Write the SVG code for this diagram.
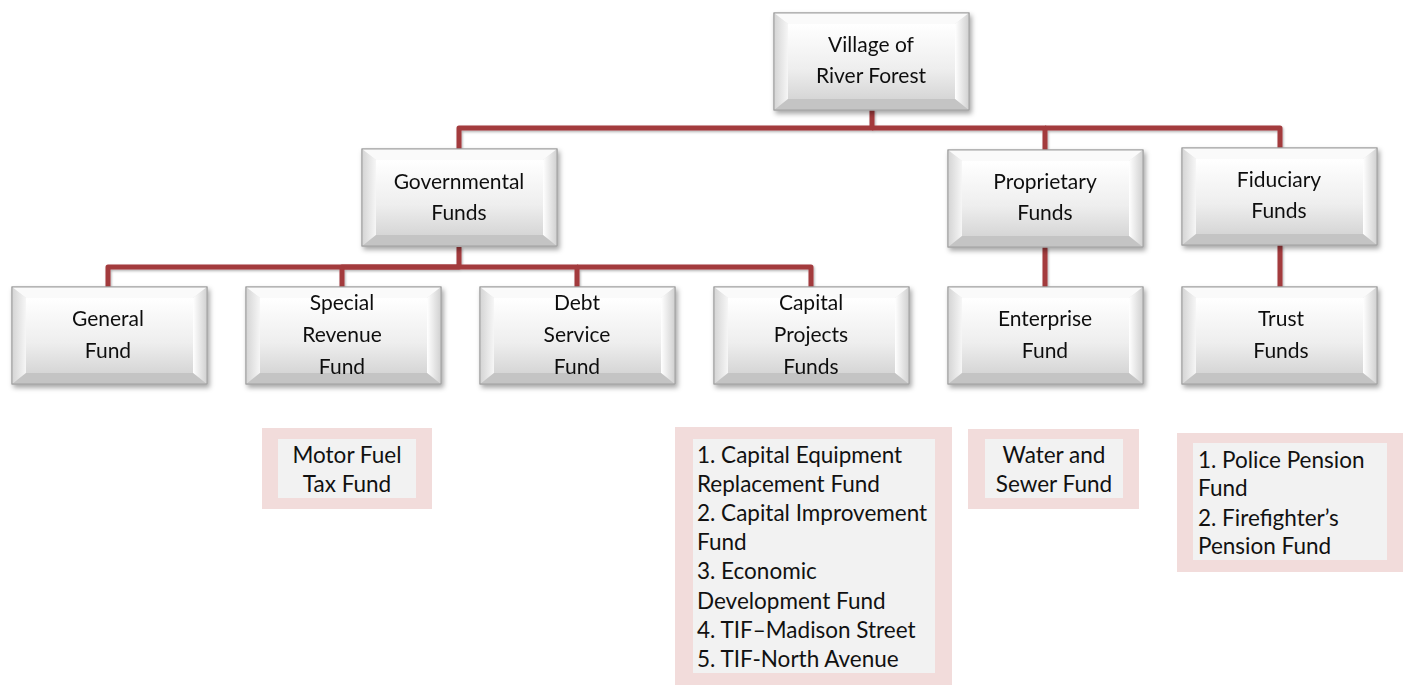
<svg xmlns="http://www.w3.org/2000/svg" xmlns:xlink="http://www.w3.org/1999/xlink" width="1410" height="685" viewBox="0 0 1410 685">
<defs>
<linearGradient id="face" x1="0" y1="0" x2="0" y2="1">
<stop offset="0" stop-color="#ffffff"/>
<stop offset="0.6" stop-color="#eeeeee"/>
<stop offset="1" stop-color="#d6d6d6"/>
</linearGradient>
<linearGradient id="leftb" x1="0" y1="0" x2="1" y2="0">
<stop offset="0" stop-color="#d4d4d4"/>
<stop offset="1" stop-color="#f6f6f6"/>
</linearGradient>
<linearGradient id="rightb" x1="0" y1="0" x2="1" y2="0">
<stop offset="0" stop-color="#ffffff"/>
<stop offset="1" stop-color="#d0d0d0"/>
</linearGradient>
<filter id="shadow" x="-10%" y="-10%" width="125%" height="130%">
<feDropShadow dx="2" dy="3" stdDeviation="2.5" flood-color="#000" flood-opacity="0.35"/>
</filter>
<filter id="lshadow" x="-5%" y="-5%" width="110%" height="120%">
<feDropShadow dx="1" dy="1.5" stdDeviation="1" flood-color="#000" flood-opacity="0.3"/>
</filter>
<g id="bevel">
<rect x="0" y="0" width="195" height="97" fill="#e6e6e6" stroke="#a0a0a0" stroke-width="1"/>
<polygon points="0,0 195,0 181,11 14,11" fill="#fafafa"/>
<polygon points="0,0 14,11 14,86 0,97" fill="url(#leftb)"/>
<polygon points="195,0 195,97 181,86 181,11" fill="url(#rightb)"/>
<polygon points="0,97 14,86 181,86 195,97" fill="#c4c4c4"/>
<rect x="14" y="11" width="167" height="75" fill="url(#face)"/>
<rect x="0" y="0" width="195" height="97" fill="none" stroke="#a0a0a0" stroke-width="1"/>
</g>
</defs>
<style>
.t{font-family:Lato,"Open Sans","Liberation Sans",sans-serif;font-size:21px;fill:#111;text-anchor:middle}
.m{font-family:Lato,"Open Sans","Liberation Sans",sans-serif;font-size:22.5px;fill:#111;text-anchor:middle}
.l{font-family:Lato,"Open Sans","Liberation Sans",sans-serif;font-size:22.5px;fill:#111}
.c{fill:none;stroke:#a33b3d;stroke-width:5;stroke-linejoin:round}
.po{fill:#f2dcdb}
.pi{fill:#f2f2f2}
</style>
<rect width="1410" height="685" fill="#ffffff"/>

<g id="connectors" filter="url(#lshadow)">
<path class="c" d="M872 109 V128 H459 V149"/>
<path class="c" d="M872 128 H1045 V150"/>
<path class="c" d="M1045 128 H1280 V148"/>
<path class="c" d="M459 247 V267 H108 V287"/>
<path class="c" d="M459 267 H342 V287"/>
<path class="c" d="M459 267 H577 V287"/>
<path class="c" d="M577 267 H811 V287"/>
<path class="c" d="M1045 247 V287"/>
<path class="c" d="M1280 245 V287"/>
</g>

<g id="village" filter="url(#shadow)">
<use xlink:href="#bevel" transform="translate(774,13)"/>
<text class="t" x="871" y="52">Village of</text>
<text class="t" x="871" y="83">River Forest</text>
</g>

<g id="governmental" filter="url(#shadow)">
<use xlink:href="#bevel" transform="translate(362,149)"/>
<text class="t" x="459" y="189">Governmental</text>
<text class="t" x="459" y="220">Funds</text>
</g>

<g id="proprietary" filter="url(#shadow)">
<use xlink:href="#bevel" transform="translate(948,150)"/>
<text class="t" x="1045" y="189">Proprietary</text>
<text class="t" x="1045" y="220">Funds</text>
</g>

<g id="fiduciary" filter="url(#shadow)">
<use xlink:href="#bevel" transform="translate(1182,148)"/>
<text class="t" x="1279" y="187">Fiduciary</text>
<text class="t" x="1279" y="218">Funds</text>
</g>

<g id="general" filter="url(#shadow)">
<use xlink:href="#bevel" transform="translate(12,287)"/>
<text class="t" x="108" y="326">General</text>
<text class="t" x="108" y="358">Fund</text>
</g>

<g id="special" filter="url(#shadow)">
<use xlink:href="#bevel" transform="translate(246,287)"/>
<text class="t" x="342" y="310">Special</text>
<text class="t" x="342" y="342">Revenue</text>
<text class="t" x="342" y="374">Fund</text>
</g>

<g id="debt" filter="url(#shadow)">
<use xlink:href="#bevel" transform="translate(480,287)"/>
<text class="t" x="577" y="310">Debt</text>
<text class="t" x="577" y="342">Service</text>
<text class="t" x="577" y="374">Fund</text>
</g>

<g id="capital" filter="url(#shadow)">
<use xlink:href="#bevel" transform="translate(714,287)"/>
<text class="t" x="811" y="310">Capital</text>
<text class="t" x="811" y="342">Projects</text>
<text class="t" x="811" y="374">Funds</text>
</g>

<g id="enterprise" filter="url(#shadow)">
<use xlink:href="#bevel" transform="translate(948,287)"/>
<text class="t" x="1045" y="326">Enterprise</text>
<text class="t" x="1045" y="358">Fund</text>
</g>

<g id="trust" filter="url(#shadow)">
<use xlink:href="#bevel" transform="translate(1182,287)"/>
<text class="t" x="1281" y="326">Trust</text>
<text class="t" x="1281" y="358">Funds</text>
</g>

<g id="motorfuel">
<rect class="po" x="262" y="428" width="170" height="81"/>
<rect class="pi" x="278" y="439" width="138" height="59"/>
<text class="m" x="347" y="463">Motor Fuel</text>
<text class="m" x="347" y="492">Tax Fund</text>
</g>

<g id="capitallist">
<rect class="po" x="675" y="427" width="277" height="258"/>
<rect class="pi" x="693" y="439" width="242" height="234"/>
<text class="l" x="697" y="463">1. Capital Equipment</text>
<text class="l" x="697" y="492">Replacement Fund</text>
<text class="l" x="697" y="521">2. Capital Improvement</text>
<text class="l" x="697" y="550">Fund</text>
<text class="l" x="697" y="579">3. Economic</text>
<text class="l" x="697" y="609">Development Fund</text>
<text class="l" x="697" y="638">4. TIF–Madison Street</text>
<text class="l" x="697" y="667">5. TIF-North Avenue</text>
</g>

<g id="watersewer">
<rect class="po" x="968" y="429" width="171" height="80"/>
<rect class="pi" x="985" y="439" width="138" height="59"/>
<text class="m" x="1054" y="463">Water and</text>
<text class="m" x="1054" y="492">Sewer Fund</text>
</g>

<g id="pensionlist">
<rect class="po" x="1177" y="433" width="226" height="139"/>
<rect class="pi" x="1193" y="443" width="194" height="117"/>
<text class="l" x="1198" y="468">1. Police Pension</text>
<text class="l" x="1198" y="496">Fund</text>
<text class="l" x="1198" y="526">2. Firefighter’s</text>
<text class="l" x="1198" y="554">Pension Fund</text>
</g>
</svg>
